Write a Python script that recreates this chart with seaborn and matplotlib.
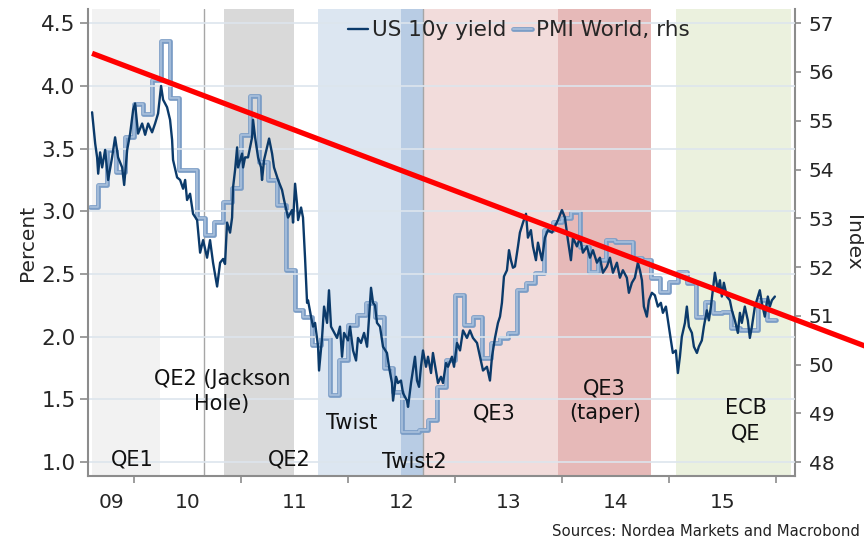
import numpy as np
import pandas as pd
import seaborn as sns
import matplotlib.pyplot as plt
import matplotlib.patheffects as pe
from matplotlib.lines import Line2D

sns.set_theme(style="white")
plt.rcParams['font.family'] = ['DejaVu Sans']

### US 10y yield, percent (decimal years)
yield_x = [
    2009.607, 2009.636, 2009.654, 2009.664, 2009.682, 2009.701, 2009.729, 2009.757, 2009.794, 2009.822,
    2009.850, 2009.888, 2009.907, 2009.935, 2009.963, 2009.991, 2010.009, 2010.037, 2010.075, 2010.103,
    2010.131, 2010.168, 2010.196, 2010.224, 2010.252, 2010.271, 2010.308, 2010.336, 2010.355, 2010.364,
    2010.402, 2010.430, 2010.458, 2010.477, 2010.495, 2010.523, 2010.551, 2010.589, 2010.617, 2010.645,
    2010.682, 2010.710, 2010.738, 2010.776, 2010.804, 2010.832, 2010.850, 2010.869, 2010.897, 2010.916,
    2010.925, 2010.944, 2010.963, 2010.972, 2011.009, 2011.019, 2011.037, 2011.065, 2011.103, 2011.112,
    2011.131, 2011.159, 2011.187, 2011.196, 2011.215, 2011.243, 2011.262, 2011.290, 2011.308, 2011.346,
    2011.383, 2011.402, 2011.439, 2011.477, 2011.486, 2011.505, 2011.523, 2011.533, 2011.561, 2011.579,
    2011.598, 2011.617, 2011.626, 2011.654, 2011.673, 2011.692, 2011.720, 2011.729, 2011.757, 2011.776,
    2011.804, 2011.822, 2011.841, 2011.860, 2011.897, 2011.925, 2011.944, 2011.963, 2012.000, 2012.019,
    2012.047, 2012.075, 2012.093, 2012.121, 2012.150, 2012.178, 2012.187, 2012.215, 2012.234, 2012.252,
    2012.271, 2012.299, 2012.327, 2012.364, 2012.383, 2012.411, 2012.421, 2012.449, 2012.467, 2012.495,
    2012.514, 2012.551, 2012.561, 2012.589, 2012.607, 2012.626, 2012.645, 2012.664, 2012.682, 2012.701,
    2012.729, 2012.748, 2012.776, 2012.794, 2012.822, 2012.841, 2012.869, 2012.888, 2012.916, 2012.935,
    2012.972, 2012.991, 2013.019, 2013.047, 2013.075, 2013.112, 2013.140, 2013.168, 2013.206, 2013.234,
    2013.262, 2013.299, 2013.327, 2013.346, 2013.374, 2013.402, 2013.421, 2013.439, 2013.458, 2013.486,
    2013.505, 2013.523, 2013.542, 2013.561, 2013.589, 2013.607, 2013.636, 2013.664, 2013.682, 2013.710,
    2013.729, 2013.757, 2013.776, 2013.813, 2013.841, 2013.869, 2013.907, 2013.935, 2013.963, 2014.000,
    2014.028, 2014.056, 2014.084, 2014.103, 2014.140, 2014.168, 2014.196, 2014.234, 2014.262, 2014.290,
    2014.327, 2014.355, 2014.383, 2014.421, 2014.449, 2014.477, 2014.514, 2014.542, 2014.570, 2014.607,
    2014.626, 2014.654, 2014.682, 2014.710, 2014.729, 2014.748, 2014.766, 2014.794, 2014.813, 2014.841,
    2014.869, 2014.897, 2014.925, 2014.944, 2014.972, 2014.991, 2015.019, 2015.037, 2015.065, 2015.084,
    2015.103, 2015.121, 2015.150, 2015.168, 2015.187, 2015.215, 2015.234, 2015.262, 2015.280, 2015.308,
    2015.327, 2015.355, 2015.374, 2015.393, 2015.411, 2015.430, 2015.458, 2015.477, 2015.495, 2015.514,
    2015.542, 2015.570, 2015.589, 2015.617, 2015.645, 2015.664, 2015.682, 2015.710, 2015.738, 2015.757,
    2015.776, 2015.804, 2015.832, 2015.850, 2015.869, 2015.897, 2015.925, 2015.944, 2015.963, 2015.991,
]
yield_y = [
    3.79, 3.54, 3.43, 3.30, 3.47, 3.35, 3.49, 3.25, 3.43, 3.59,
    3.43, 3.35, 3.21, 3.49, 3.62, 3.81, 3.86, 3.62, 3.70, 3.61,
    3.70, 3.63, 3.70, 3.78, 4.00, 3.89, 3.83, 3.73, 3.57, 3.41,
    3.27, 3.25, 3.18, 3.25, 3.09, 3.14, 2.98, 2.93, 2.67, 2.77,
    2.63, 2.77, 2.59, 2.40, 2.59, 2.62, 2.58, 2.91, 2.83, 2.95,
    3.19, 3.33, 3.51, 3.35, 3.46, 3.35, 3.43, 3.43, 3.59, 3.73,
    3.59, 3.43, 3.35, 3.25, 3.41, 3.51, 3.58, 3.46, 3.35, 3.25,
    3.17, 3.09, 2.95, 3.01, 2.91, 3.22, 3.06, 2.93, 3.03, 2.95,
    2.63, 2.27, 2.29, 2.16, 2.08, 2.11, 1.92, 1.73, 1.99, 2.24,
    2.11, 2.37, 2.08, 2.05, 1.99, 2.08, 1.84, 2.03, 1.97, 2.08,
    1.89, 1.81, 1.99, 1.95, 2.03, 1.92, 2.03, 2.39, 2.27, 2.25,
    2.11, 2.08, 1.92, 1.87, 1.76, 1.63, 1.49, 1.68, 1.63, 1.65,
    1.55, 1.49, 1.44, 1.63, 1.73, 1.84, 1.65, 1.60, 1.76, 1.89,
    1.76, 1.84, 1.71, 1.87, 1.73, 1.63, 1.68, 1.63, 1.79, 1.76,
    1.84, 1.76, 1.95, 1.89, 2.05, 1.99, 2.05, 1.99, 1.95, 1.84,
    1.73, 1.76, 1.65, 1.84, 1.99, 2.11, 2.16, 2.27, 2.48, 2.53,
    2.69, 2.61, 2.55, 2.56, 2.72, 2.83, 2.91, 2.98, 2.79, 2.85,
    2.72, 2.61, 2.75, 2.61, 2.79, 2.85, 2.83, 2.88, 2.93, 3.01,
    2.95, 2.77, 2.61, 2.79, 2.72, 2.79, 2.67, 2.72, 2.63, 2.69,
    2.59, 2.63, 2.51, 2.56, 2.63, 2.51, 2.59, 2.47, 2.53, 2.47,
    2.35, 2.43, 2.47, 2.59, 2.53, 2.45, 2.24, 2.16, 2.29, 2.35,
    2.33, 2.24, 2.27, 2.19, 2.24, 2.13, 1.97, 1.87, 1.89, 1.71,
    1.84, 2.00, 2.11, 2.24, 2.08, 2.03, 1.92, 1.87, 1.92, 1.97,
    2.08, 2.21, 2.13, 2.24, 2.37, 2.51, 2.37, 2.45, 2.32, 2.43,
    2.32, 2.29, 2.21, 2.13, 2.03, 2.19, 2.11, 2.24, 2.13, 1.99,
    2.08, 2.24, 2.32, 2.37, 2.27, 2.16, 2.32, 2.24, 2.29, 2.32,
]

### PMI World, index, monthly Aug 2009 - Dec 2015
pmi_vals = [
    53.24, 53.69, 54.41, 53.95, 54.67,
    55.35, 55.13, 55.84, 56.64, 55.47, 54.00, 54.00, 53.01, 52.66, 52.93, 53.34, 53.63,
    54.71, 55.50, 54.16, 53.79, 53.28, 51.94, 51.12, 50.98, 50.40, 50.55, 49.38, 50.09,
    50.81, 51.02, 51.26, 50.98, 49.93, 49.44, 48.62, 48.62, 48.66, 48.86, 49.54, 50.09,
    51.43, 50.81, 50.98, 50.14, 50.44, 50.55, 50.65, 51.53, 51.68, 51.88, 52.76, 52.93,
    53.00, 53.13, 52.41, 51.90, 52.15, 52.56, 52.52, 52.52, 52.19, 52.15, 51.78, 51.49,
    51.70, 51.90, 51.68, 50.98, 51.29, 51.06, 51.08, 50.75, 50.71, 50.71, 51.33, 50.92,
]
pmi_x = 2009 + 7 / 12 + np.arange(len(pmi_vals) + 1) / 12
pmi_y = pmi_vals + [pmi_vals[-1]]

### policy periods
periods = [
    ("QE1", 2009.605, 2010.243, "#f2f2f2"),
    ("QE2", 2010.841, 2011.495, "#d9d9d9"),
    ("Twist", 2011.720, 2012.495, "#dce6f1"),
    ("Twist2", 2012.495, 2012.701, "#b8cce4"),
    ("QE3", 2012.701, 2013.963, "#f2dcdb"),
    ("QE3 taper", 2013.963, 2014.832, "#e6b9b8"),
    ("ECB QE", 2015.065, 2016.140, "#ebf1de"),
]
event_lines = [2010.654, 2012.701]

labels = ["QE1", "QE2 (Jackson\nHole)", "QE2", "Twist", "Twist2", "QE3", "QE3\n(taper)", "ECB\nQE"]
label_x = [2009.98, 2010.82, 2011.45, 2012.03, 2012.62, 2013.37, 2014.40, 2015.72]
label_y = [1.02, 1.56, 1.02, 1.31, 1.00, 1.39, 1.49, 1.33]

### red trend line
trend_x = [2009.607, 2016.85]
trend_y = [4.26, 1.92]

year_labels = ["09", "10", "11", "12", "13", "14", "15"]

xmin, xmax = 2009.57, 2016.178
navy = "#0b3a6a"
pmi_col = "#7b9dc6"
gray = "#8c8c8c"

fig, ax = plt.subplots(figsize=(8.64, 5.41), dpi=100)
fig.subplots_adjust(left=0.102, right=0.920, bottom=0.120, top=0.983)
ax2 = ax.twinx()
ax.set_zorder(ax2.get_zorder() + 1)
ax.patch.set_visible(False)

## background: shaded periods + PMI on the right axis
for name, a, b, c in periods:
    ax2.axvspan(a, b, color=c, lw=0, zorder=0)
for e in event_lines:
    ax2.axvline(e, color="#a6a6a6", lw=1, zorder=1)

pmi_fx = [pe.Stroke(linewidth=3.4, foreground=pmi_col), pe.Normal()]
sns.lineplot(x=pmi_x, y=pmi_y, ax=ax2, drawstyle="steps-post", color="#a9c0dc",
             lw=1.2, estimator=None, sort=False, path_effects=pmi_fx, zorder=3)

## yield on the left axis
sns.lineplot(x=yield_x, y=yield_y, ax=ax, color=navy, lw=1.7, estimator=None, sort=False, zorder=4)
ax.plot(trend_x, trend_y, color="#ff0000", lw=3.8, clip_on=False, zorder=10, solid_capstyle="butt")

for s, x, y in zip(labels, label_x, label_y):
    ax.text(x, y, s, ha="center", va="center", fontsize=15, color="#111111", linespacing=1.3, zorder=5)

## axes
ax.set_xlim(xmin, xmax)
ax.set_ylim(0.888, 4.612)
ax2.set_ylim(47.712, 57.288)

ax.set_yticks(np.arange(1.0, 4.51, 0.5))
ax.set_yticklabels([f"{v:.1f}" for v in np.arange(1.0, 4.51, 0.5)])
ax2.set_yticks(range(48, 58))

ax.set_xticks(range(2010, 2017))
ax.set_xticklabels([])
mids = [(max(y, xmin) + y + 1) / 2 for y in range(2009, 2016)]
ax.set_xticks(mids, minor=True)
ax.set_xticklabels(year_labels, minor=True)

ax.tick_params(axis="x", which="major", length=5, width=1.2, color=gray, bottom=True)
ax.tick_params(axis="x", which="minor", length=0, pad=12, labelsize=14.5, bottom=True)
ax.tick_params(axis="y", length=6, width=1.2, color=gray, left=True, labelsize=15.5, pad=3)
ax2.tick_params(axis="y", length=4, width=1.2, color=gray, right=True, labelsize=14.5, pad=6)

ax.yaxis.grid(True, color="#dde5ed", lw=1.2)
ax.set_axisbelow(True)

for sp in ["top", "right"]:
    ax.spines[sp].set_visible(False)
for sp in ["top", "left", "bottom"]:
    ax2.spines[sp].set_visible(False)
for sp in [ax.spines["left"], ax.spines["bottom"], ax2.spines["right"]]:
    sp.set_color(gray)
    sp.set_linewidth(1.5)

ax.set_xlabel("")
ax.set_ylabel("Percent", fontsize=14.5, labelpad=3)
ax2.set_ylabel("Index", fontsize=14.5, rotation=270, labelpad=20)

handles = [Line2D([], [], color=navy, lw=1.7),
           Line2D([], [], color="#a9c0dc", lw=1.2, path_effects=pmi_fx)]
ax.legend(handles, ["US 10y yield", "PMI World, rhs"], loc="center", bbox_to_anchor=(0.61, 0.955),
          ncol=2, frameon=False, fontsize=15.5, handlelength=0.9, handletextpad=0.2,
          columnspacing=0.3, borderaxespad=0)

fig.text(0.995, 0.017, "Sources: Nordea Markets and Macrobond", ha="right", va="center",
         fontsize=10.7, color="#222222")

plt.savefig("out.png", dpi=100)
